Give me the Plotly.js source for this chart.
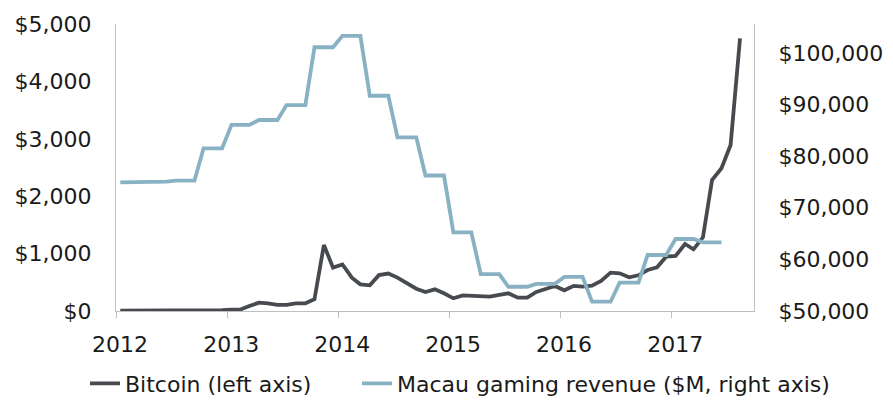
<!DOCTYPE html>
<html>
<head>
<meta charset="utf-8">
<script src="https://cdn.plot.ly/plotly-3.0.1.min.js"></script>
<style>
  html, body { margin: 0; padding: 0; background: #fff; }
  #chart { width: 893px; height: 406px; }
</style>
</head>
<body>
<div id="chart"></div>
<script>
// Month labels (mid-month), Jan 2012 – Aug 2017
const months = [
  '2012-01-15','2012-02-15','2012-03-15','2012-04-15','2012-05-15','2012-06-15','2012-07-15','2012-08-15','2012-09-15','2012-10-15','2012-11-15','2012-12-15',
  '2013-01-15','2013-02-15','2013-03-15','2013-04-15','2013-05-15','2013-06-15','2013-07-15','2013-08-15','2013-09-15','2013-10-15','2013-11-15','2013-12-15',
  '2014-01-15','2014-02-15','2014-03-15','2014-04-15','2014-05-15','2014-06-15','2014-07-15','2014-08-15','2014-09-15','2014-10-15','2014-11-15','2014-12-15',
  '2015-01-15','2015-02-15','2015-03-15','2015-04-15','2015-05-15','2015-06-15','2015-07-15','2015-08-15','2015-09-15','2015-10-15','2015-11-15','2015-12-15',
  '2016-01-15','2016-02-15','2016-03-15','2016-04-15','2016-05-15','2016-06-15','2016-07-15','2016-08-15','2016-09-15','2016-10-15','2016-11-15','2016-12-15',
  '2017-01-15','2017-02-15','2017-03-15','2017-04-15','2017-05-15','2017-06-15','2017-07-15','2017-08-15'
];

// Bitcoin price, USD (left axis)
const bitcoin = [
  5.5, 4.9, 4.9, 5.0, 5.2, 6.7, 9.4, 10.2, 12.4, 11.2, 12.6, 13.5,
  23, 30, 88, 145, 134, 105, 105, 134, 134, 204, 1150, 755,
  810, 580, 465, 447, 625, 652, 582, 494, 389, 331, 378, 308,
  221, 273, 261, 250, 250, 279, 308, 232, 232, 331, 389, 436,
  360, 438, 424, 441, 523, 668, 656, 587, 622, 714, 761, 946,
  958, 1167, 1074, 1284, 2282, 2486, 2892, 4750
];

// Macau gaming revenue, $M (right axis), Jan 2012 – Jun 2017
const macau = [
  74900, 74900, 74900, 75050, 75050, 75050, 75250, 75250, 75250, 81500, 81500, 81500,
  86050, 86050, 86050, 87000, 87000, 87000, 89900, 89900, 89900, 101100, 101100, 101100,
  103300, 103300, 103300, 91700, 91700, 91700, 83650, 83650, 83650, 76250, 76250, 76250,
  65250, 65250, 65250, 57150, 57150, 57150, 54700, 54700, 54700, 55250, 55250, 55250,
  56600, 56600, 56600, 51800, 51800, 51800, 55500, 55500, 55500, 60850, 60850, 60850,
  63950, 63950, 63950, 63300, 63300, 63300
];

const yearTicks = ['2012-01-01','2013-01-01','2014-01-01','2015-01-01','2016-01-01','2017-01-01'];
const yearLabels = ['2012','2013','2014','2015','2016','2017'];

const seriesNames = ['Bitcoin (left axis)', 'Macau gaming revenue ($M, right axis)'];

const fontFamily = '"DejaVu Sans", sans-serif';
const axisGrey = '#bfbfbf';
const textColor = '#1a1a1a';

const traces = [
  {
    x: months, y: bitcoin, name: seriesNames[0], type: 'scatter', mode: 'lines',
    line: { color: '#474b50', width: 3.8 }, yaxis: 'y', legend: 'legend'
  },
  {
    x: months.slice(0, macau.length), y: macau, name: seriesNames[1], type: 'scatter', mode: 'lines',
    line: { color: '#88b2c4', width: 3.8 }, yaxis: 'y2', legend: 'legend2'
  }
];

const legendBase = {
  orientation: 'h', xref: 'container', xanchor: 'left', yref: 'paper', y: -0.18, yanchor: 'top',
  font: { family: fontFamily, size: 22, color: textColor }, bgcolor: 'rgba(0,0,0,0)'
};

const layout = {
  width: 893, height: 406,
  margin: { l: 116, r: 139, t: 24, b: 95, autoexpand: false },
  paper_bgcolor: '#ffffff', plot_bgcolor: '#ffffff',
  font: { family: fontFamily, size: 22, color: textColor },
  showlegend: true,
  legend: Object.assign({}, legendBase, { x: 85 / 893 }),
  legend2: Object.assign({}, legendBase, { x: 357 / 893 }),
  xaxis: {
    type: 'date', range: ['2012-01-01', '2017-09-30'],
    tickmode: 'array', tickvals: yearTicks, ticktext: yearLabels,
    ticks: 'outside', ticklen: 6, tickcolor: axisGrey, tickwidth: 1,
    showline: true, linecolor: axisGrey, linewidth: 1,
    showgrid: false, zeroline: false, ticklabelshift: 4, ticklabelstandoff: 8,
    tickfont: { family: fontFamily, size: 22, color: textColor }
  },
  yaxis: {
    range: [0, 5000], dtick: 1000, tick0: 0, tickprefix: '$', tickformat: ',.0f',
    showline: true, linecolor: axisGrey, linewidth: 1,
    showgrid: false, zeroline: false, ticks: '', ticklabelstandoff: 19,
    tickfont: { family: fontFamily, size: 22, color: textColor }
  },
  yaxis2: {
    overlaying: 'y', side: 'right',
    range: [50000, 105600], dtick: 10000, tick0: 50000, tickprefix: '$', tickformat: ',.0f',
    showline: true, linecolor: axisGrey, linewidth: 1,
    showgrid: false, zeroline: false, ticks: '', ticklabelstandoff: 19,
    tickfont: { family: fontFamily, size: 22, color: textColor }
  }
};

Plotly.newPlot('chart', traces, layout, { staticPlot: true, displayModeBar: false });
</script>
</body>
</html>
